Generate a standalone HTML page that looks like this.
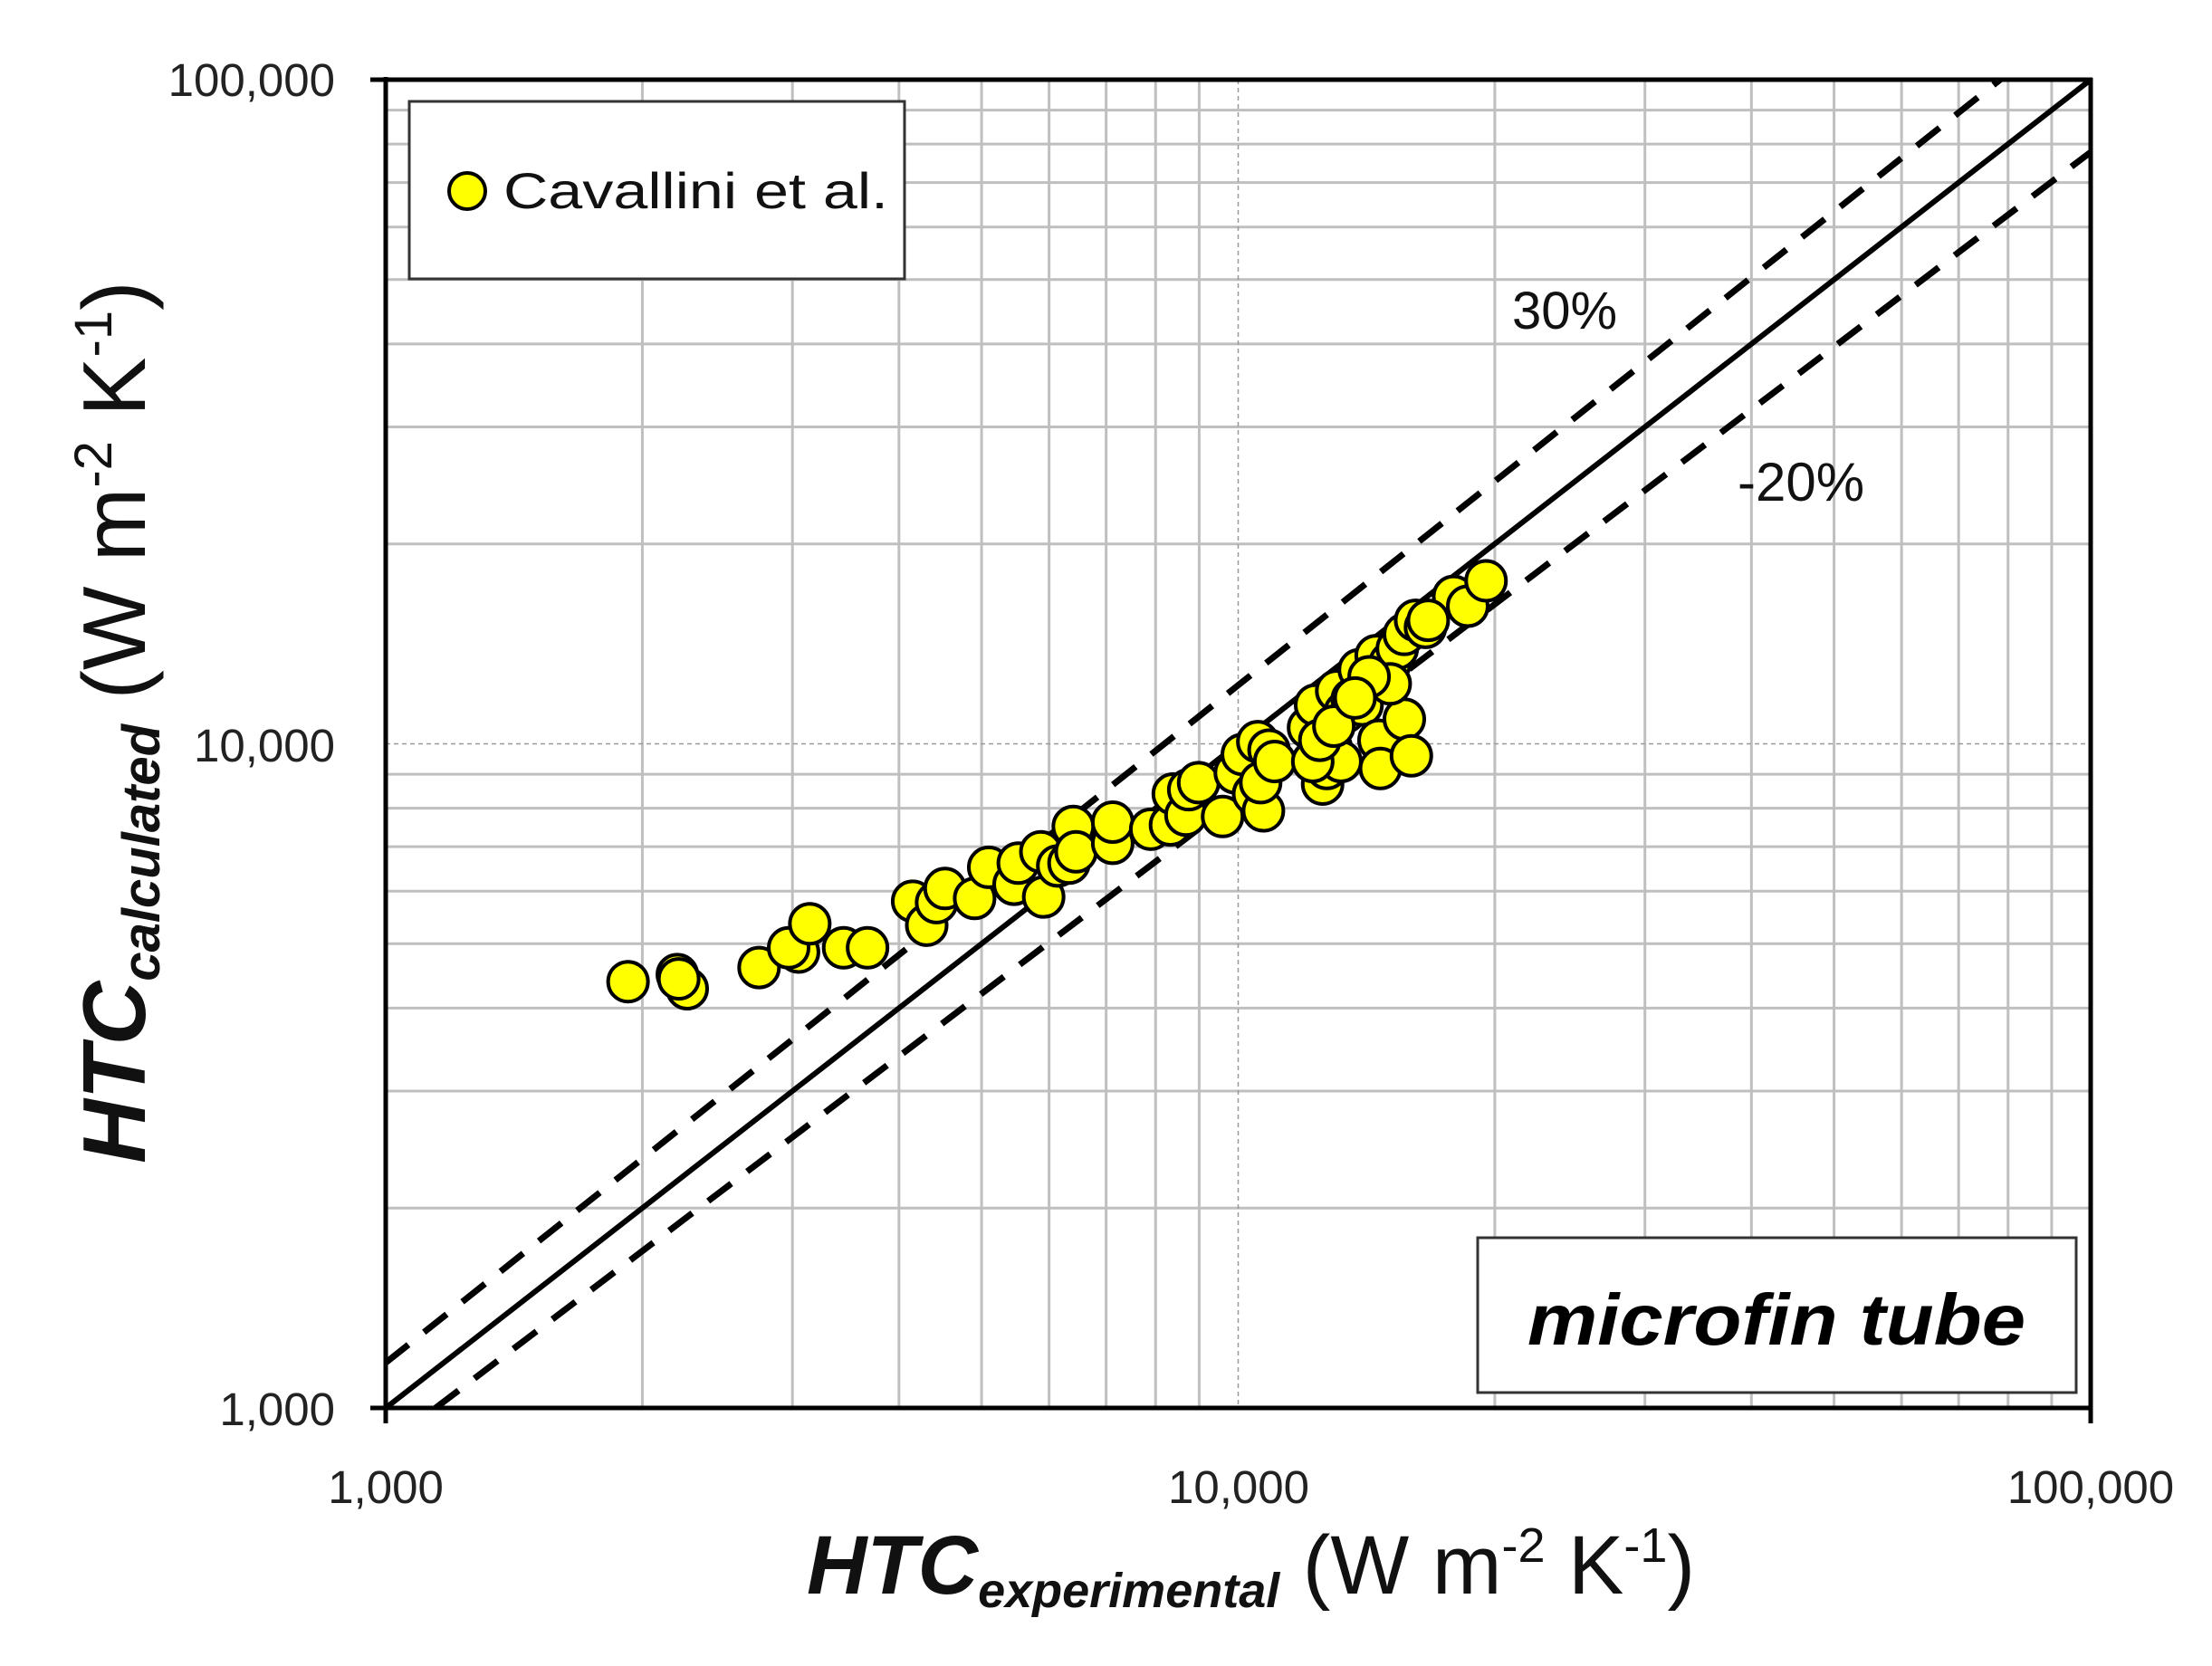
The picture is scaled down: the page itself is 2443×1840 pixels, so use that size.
<!DOCTYPE html>
<html><head><meta charset="utf-8"><style>html,body{margin:0;padding:0;background:#fff}svg{display:block}</style></head>
<body>
<svg id="s" width="2443" height="1840" viewBox="0 0 2443 1840" xmlns="http://www.w3.org/2000/svg" font-family="Liberation Sans, sans-serif">
<rect width="2443" height="1840" fill="#fff"/>
<g id="grid"></g>
<rect x="452" y="112" width="547" height="196" fill="#fff" stroke="#333" stroke-width="3"/>
<circle cx="516" cy="211" r="20" fill="#ffff00" stroke="#000" stroke-width="4"/>
<text x="556" y="230" font-size="56" textLength="425" lengthAdjust="spacingAndGlyphs" fill="#111">Cavallini et al.</text>
<rect x="1632" y="1367" width="661" height="171" fill="#fff" stroke="#333" stroke-width="3"/>
<text x="1962" y="1485" font-size="80" font-weight="bold" font-style="italic" text-anchor="middle" textLength="550" lengthAdjust="spacingAndGlyphs">microfin tube</text>
<line x1="426" y1="1555" x2="2309" y2="88" stroke="#000" stroke-width="6"/>
<line x1="426" y1="1505" x2="2209" y2="88" stroke="#000" stroke-width="7" stroke-dasharray="32,22"/>
<line x1="481" y1="1555" x2="2309" y2="168" stroke="#000" stroke-width="7" stroke-dasharray="32,22"/>
<text x="1670" y="363" font-size="58" fill="#111">30%</text>
<text x="1919" y="553" font-size="60" fill="#111">-20%</text>
<g id="pts"></g>
<line x1="426" y1="85" x2="426" y2="1572" stroke="#000" stroke-width="5"/>
<line x1="409" y1="1555" x2="2311" y2="1555" stroke="#000" stroke-width="5"/>
<line x1="409" y1="88" x2="2311" y2="88" stroke="#000" stroke-width="5"/>
<line x1="2309" y1="86" x2="2309" y2="1572" stroke="#000" stroke-width="5"/>
<g font-size="51" fill="#222">
<text x="370" y="106" text-anchor="end">100,000</text>
<text x="370" y="841" text-anchor="end">10,000</text>
<text x="370" y="1574" text-anchor="end">1,000</text>
<text x="426" y="1660" text-anchor="middle">1,000</text>
<text x="1368" y="1660" text-anchor="middle">10,000</text>
<text x="2309" y="1660" text-anchor="middle">100,000</text>
</g>
<text x="891" y="1760" font-size="92" fill="#111"><tspan font-weight="bold" font-style="italic">HTC</tspan><tspan font-weight="bold" font-style="italic" font-size="54" dy="15">experimental</tspan><tspan dy="-15"> (W m</tspan><tspan font-size="54" dy="-35">-2</tspan><tspan dy="35"> K</tspan><tspan font-size="54" dy="-35">-1</tspan><tspan dy="35">)</tspan></text>
<text transform="translate(160,1285) rotate(-90)" font-size="98" fill="#111"><tspan font-weight="bold" font-style="italic">HTC</tspan><tspan font-weight="bold" font-style="italic" font-size="58" dy="16">calculated</tspan><tspan dy="-16"> (W m</tspan><tspan font-size="58" dy="-37">-2</tspan><tspan dy="37"> K</tspan><tspan font-size="58" dy="-37">-1</tspan><tspan dy="37">)</tspan></text>
</svg>
<script>
var NS="http://www.w3.org/2000/svg";
var L=426,R=2309,T=88,B=1555,dx=941.5,dy=733.5;
var g=document.getElementById('grid');
function ln(x1,y1,x2,y2,c,w,d){var e=document.createElementNS(NS,'line');e.setAttribute('x1',x1);e.setAttribute('y1',y1);e.setAttribute('x2',x2);e.setAttribute('y2',y2);e.setAttribute('stroke',c);e.setAttribute('stroke-width',w);if(d)e.setAttribute('stroke-dasharray',d);g.appendChild(e);}
for(var dec=0;dec<2;dec++){for(var k=2;k<=9;k++){var f=dec+Math.log10(k);ln(L+f*dx,T,L+f*dx,B,'#bfbfbf',3);ln(L,B-f*dy,R,B-f*dy,'#bfbfbf',3);}}
ln(L+dx,T,L+dx,B,'#999',1.5,'5,4');ln(L,B-dy,R,B-dy,'#999',1.5,'5,4');
var P=[[444,696],[479,691],[486,701],[480,694],[537,686],[565,675],[558,672],[573,655],[597,672],[614,672],[646,639],[656,656],[663,640],[669,630],[690,637],[700,615],[718,627],[721,612],[737,604],[739,636],[749,614],[757,612],[760,586],[762,604],[788,598],[788,583],[815,588],[829,585],[831,563],[840,578],[842,560],[849,555],[866,579],[875,548],[880,535],[888,563],[891,526],[895,575],[893,555],[899,532],[903,540],[927,516],[932,500],[937,556],[940,545],[943,530],[947,490],[950,540],[953,505],[958,496],[963,475],[965,500],[975,465],[977,525],[978,545],[995,510],[1000,536],[985,470],[990,460],[995,450],[1003,440],[1010,445],[1030,423],[1040,430],[1053,412],[1012,440],[985,485],[970,480],[930,540],[935,525],[945,515],[960,495]];
var pg=document.getElementById('pts');
P.forEach(function(p){var c=document.createElementNS(NS,'circle');c.setAttribute('cx',426+(p[0]-272)*1.556);c.setAttribute('cy',88+(p[1]-57)*1.559);c.setAttribute('r',22);c.setAttribute('fill','#ffff00');c.setAttribute('stroke','#000');c.setAttribute('stroke-width',4);pg.appendChild(c);});
</script>
</body></html>
